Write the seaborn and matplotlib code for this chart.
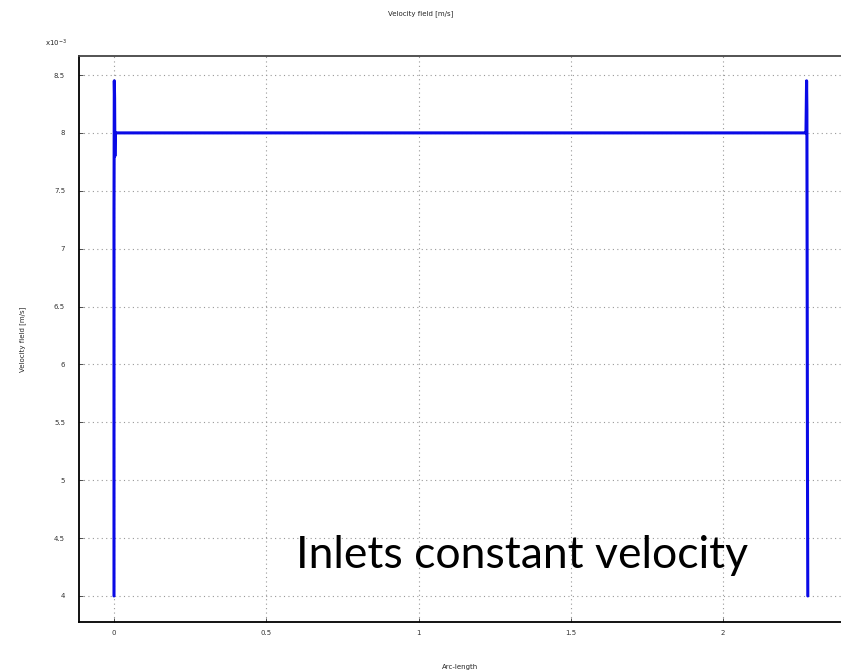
import numpy as np
import pandas as pd
import matplotlib.pyplot as plt
import seaborn as sns

# Velocity profile along the cut line (values in 1e-3 m/s)
arc_length = [0.0, 0.0, 0.001, 0.002, 0.003, 0.004, 0.006, 0.010,
              1.0, 2.0, 2.268, 2.272, 2.274, 2.275, 2.276, 2.277, 2.278]
velocity = [4.0, 7.3, 8.45, 8.3, 7.8, 8.0, 8.0, 8.0,
            8.0, 8.0, 8.0, 8.0, 8.45, 8.2, 6.6, 5.0, 4.0]

y_ticks = [4, 4.5, 5, 5.5, 6, 6.5, 7, 7.5, 8, 8.5]
y_labels = ['4', '4.5', '5', '5.5', '6', '6.5', '7', '7.5', '8', '8.5']
x_ticks = [0, 0.5, 1, 1.5, 2]
x_labels = ['0', '0.5', '1', '1.5', '2']

df = pd.DataFrame({'Arc-length': arc_length, 'Velocity': velocity})

sns.set_style("ticks")
plt.rcParams['font.family'] = ['DejaVu Sans']

fig = plt.figure(figsize=(8.41, 6.71), dpi=100)
ax = fig.add_axes([0.0939, 0.073, 0.9061, 0.8435])

sns.lineplot(data=df, x='Arc-length', y='Velocity', ax=ax, sort=False,
             estimator=None, color='#0a0ae6', linewidth=2.2)

ax.set_xlim(-0.115, 2.387)
ax.set_ylim(3.775, 8.664)
ax.set_xticks(x_ticks)
ax.set_xticklabels(x_labels)
ax.set_yticks(y_ticks)
ax.set_yticklabels(y_labels)
ax.tick_params(axis='both', labelsize=5, colors='#333333', direction='in',
               length=3, width=0.6)
ax.tick_params(axis='x', pad=6)
ax.tick_params(axis='y', pad=10)
ax.grid(True, linestyle=(0, (1, 3)), color='#999999', linewidth=0.8)

for side in ['left', 'bottom']:
    ax.spines[side].set_color('black')
    ax.spines[side].set_linewidth(1.3)
ax.spines['top'].set_color('#444444')
ax.spines['top'].set_linewidth(1.3)
ax.spines['right'].set_visible(False)

ax.set_xlabel('Arc-length', fontsize=5)
ax.set_ylabel('Velocity field [m/s]', fontsize=5)
ax.xaxis.set_label_coords(0.5, -0.074)
ax.yaxis.set_label_coords(-0.069, 0.5)
fig.text(0.5, 0.979, 'Velocity field [m/s]', fontsize=5, ha='center', va='center')
ax.text(-0.03, 1.012, r'x10$^{-3}$', transform=ax.transAxes, fontsize=5,
        ha='center', va='bottom')

ax.text(1.34, 4.35, 'Inlets constant velocity', fontsize=32, color='black',
        family=['Lato', 'DejaVu Sans'], ha='center', va='center')

plt.savefig('out.png', dpi=100)
